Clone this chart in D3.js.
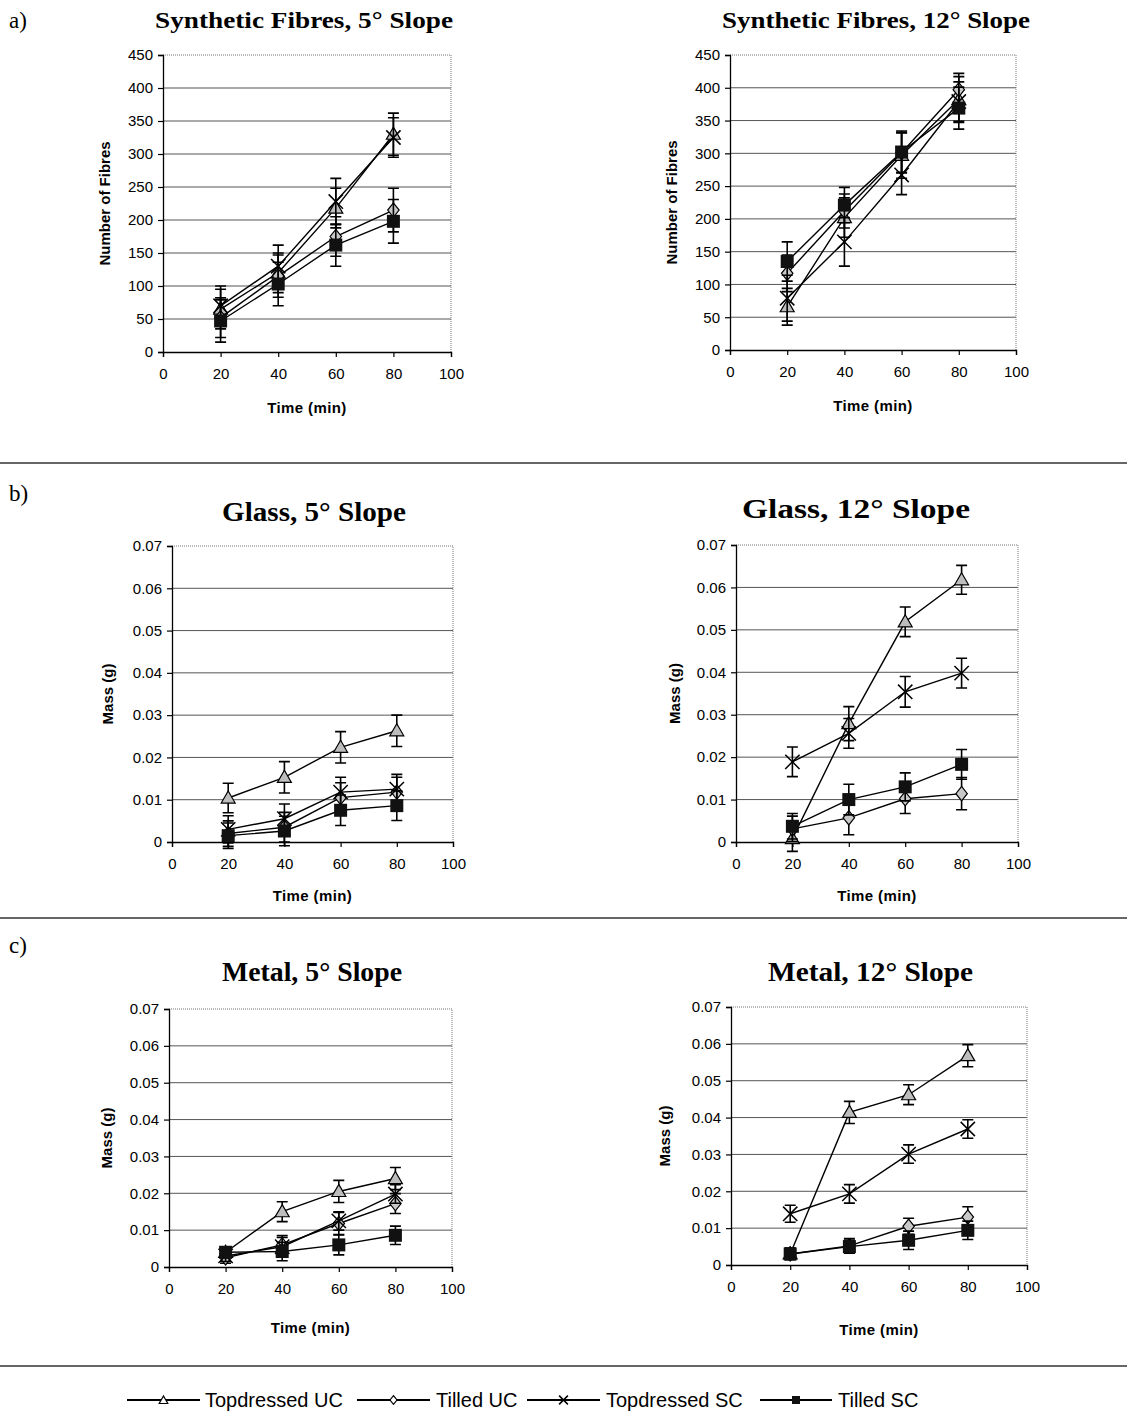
<!DOCTYPE html>
<html><head><meta charset="utf-8">
<script src="https://cdn.jsdelivr.net/npm/d3@7"></script>
<style>
body{margin:0;background:#fff;}
svg{display:block;}
</style></head>
<body>
<svg id="c" width="1127" height="1418"></svg>
<script>
// ---------- DATA ----------
const times = [20, 40, 60, 80];
const seriesNames = ["Topdressed UC", "Tilled UC", "Topdressed SC", "Tilled SC"];
const xTicks = [0, 20, 40, 60, 80, 100];
const fibreTicks = [0, 50, 100, 150, 200, 250, 300, 350, 400, 450];
const massTicks = [0, 0.01, 0.02, 0.03, 0.04, 0.05, 0.06, 0.07];
const massTickLabels = ["0", "0.01", "0.02", "0.03", "0.04", "0.05", "0.06", "0.07"];

// a) Synthetic fibres, 5°
const fib5TopUC = [65, 120, 218, 330],   fib5TopUCErr = [30, 30, 30, 32];
const fib5TilUC = [52, 115, 175, 215],   fib5TilUCErr = [30, 32, 30, 33];
const fib5TopSC = [70, 130, 228, 325],   fib5TopSCErr = [30, 32, 35, 30];
const fib5TilSC = [47, 103, 162, 198],   fib5TilSCErr = [32, 33, 32, 33];
// a) Synthetic fibres, 12°
const fib12TopUC = [66, 202, 297, 382],  fib12TopUCErr = [28, 30, 35, 35];
const fib12TilUC = [117, 212, 301, 397], fib12TilUCErr = [28, 26, 30, 25];
const fib12TopSC = [79, 165, 267, 379],  fib12TopSCErr = [35, 37, 30, 30];
const fib12TilSC = [135, 221, 302, 369], fib12TilSCErr = [30, 27, 32, 32];
// b) Glass, 5°
const gl5TopUC = [0.0104, 0.0153, 0.0224, 0.0263], gl5TopUCErr = [0.0035, 0.0037, 0.0037, 0.0037];
const gl5TilUC = [0.0020, 0.0035, 0.0105, 0.0118], gl5TilUCErr = [0.0030, 0.0035, 0.0035, 0.0035];
const gl5TopSC = [0.0030, 0.0055, 0.0118, 0.0125], gl5TopSCErr = [0.0032, 0.0035, 0.0035, 0.0035];
const gl5TilSC = [0.0015, 0.0026, 0.0075, 0.0086], gl5TilSCErr = [0.0030, 0.0035, 0.0036, 0.0035];
// b) Glass, 12°
const gl12TopUC = [0.0008, 0.0279, 0.0519, 0.0618], gl12TopUCErr = [0.0030, 0.0040, 0.0035, 0.0034];
const gl12TilUC = [0.0031, 0.0057, 0.0102, 0.0114], gl12TilUCErr = [0.0030, 0.0040, 0.0035, 0.0038];
const gl12TopSC = [0.0189, 0.0256, 0.0354, 0.0398], gl12TopSCErr = [0.0035, 0.0035, 0.0036, 0.0035];
const gl12TilSC = [0.0037, 0.0100, 0.0130, 0.0183], gl12TilSCErr = [0.0030, 0.0036, 0.0033, 0.0035];
// c) Metal, 5°
const me5TopUC = [0.0040, 0.0150, 0.0205, 0.0240], me5TopUCErr = [0.0015, 0.0027, 0.0030, 0.0030];
const me5TilUC = [0.0025, 0.0060, 0.0118, 0.0172], me5TilUCErr = [0.0015, 0.0025, 0.0030, 0.0027];
const me5TopSC = [0.0030, 0.0055, 0.0125, 0.0198], me5TopSCErr = [0.0015, 0.0025, 0.0025, 0.0025];
const me5TilSC = [0.0040, 0.0042, 0.0060, 0.0086], me5TilSCErr = [0.0015, 0.0025, 0.0027, 0.0025];
// c) Metal, 12°
const me12TopUC = [0.0030, 0.0414, 0.0462, 0.0568], me12TopUCErr = [0.0015, 0.0030, 0.0027, 0.0030];
const me12TilUC = [0.0030, 0.0052, 0.0105, 0.0130], me12TilUCErr = [0.0015, 0.0020, 0.0022, 0.0028];
const me12TopSC = [0.0139, 0.0193, 0.0301, 0.0369], me12TopSCErr = [0.0023, 0.0025, 0.0025, 0.0025];
const me12TilSC = [0.0030, 0.0050, 0.0067, 0.0094], me12TilSCErr = [0.0015, 0.0018, 0.0025, 0.0025];

// ---------- LAYOUT ----------
const svg = d3.select("#c");
const SANS = "Arial, 'Liberation Sans', sans-serif";
const SERIF = "'Times New Roman', 'Liberation Serif', serif";

const panels = [
  {title:"Synthetic Fibres, 5° Slope", tl:155, tw:298, ty:28, tsize:24, x0:163, x1:451, y0:55, y1:352, ymax:450, ticks:fibreTicks, labels:fibreTicks.map(String), ylab:"Number of Fibres", ylx:106, xly:413,
   series:[[fib5TopUC,fib5TopUCErr],[fib5TilUC,fib5TilUCErr],[fib5TopSC,fib5TopSCErr],[fib5TilSC,fib5TilSCErr]]},
  {title:"Synthetic Fibres, 12° Slope", tl:722, tw:308, ty:28, tsize:24, x0:730, x1:1016, y0:55, y1:350, ymax:450, ticks:fibreTicks, labels:fibreTicks.map(String), ylab:"Number of Fibres", ylx:673, xly:411,
   series:[[fib12TopUC,fib12TopUCErr],[fib12TilUC,fib12TilUCErr],[fib12TopSC,fib12TopSCErr],[fib12TilSC,fib12TilSCErr]]},
  {title:"Glass, 5° Slope", tl:222, tw:184, ty:521, tsize:28, x0:172, x1:453, y0:546, y1:842, ymax:0.07, ticks:massTicks, labels:massTickLabels, ylab:"Mass (g)", ylx:109, xly:901,
   series:[[gl5TopUC,gl5TopUCErr],[gl5TilUC,gl5TilUCErr],[gl5TopSC,gl5TopSCErr],[gl5TilSC,gl5TilSCErr]]},
  {title:"Glass, 12° Slope", tl:742, tw:228, ty:518, tsize:28, x0:736, x1:1018, y0:545, y1:842, ymax:0.07, ticks:massTicks, labels:massTickLabels, ylab:"Mass (g)", ylx:676, xly:901,
   series:[[gl12TopUC,gl12TopUCErr],[gl12TilUC,gl12TilUCErr],[gl12TopSC,gl12TopSCErr],[gl12TilSC,gl12TilSCErr]]},
  {title:"Metal, 5° Slope", tl:222, tw:180, ty:981, tsize:28, x0:169, x1:452, y0:1009, y1:1267, ymax:0.07, ticks:massTicks, labels:massTickLabels, ylab:"Mass (g)", ylx:108, xly:1333,
   series:[[me5TopUC,me5TopUCErr],[me5TilUC,me5TilUCErr],[me5TopSC,me5TopSCErr],[me5TilSC,me5TilSCErr]]},
  {title:"Metal, 12° Slope", tl:768, tw:205, ty:981, tsize:28, x0:731, x1:1027, y0:1007, y1:1265, ymax:0.07, ticks:massTicks, labels:massTickLabels, ylab:"Mass (g)", ylx:666, xly:1335,
   series:[[me12TopUC,me12TopUCErr],[me12TilUC,me12TilUCErr],[me12TopSC,me12TopSCErr],[me12TilSC,me12TilSCErr]]}
];

// section labels + separators
[["a)",9,28],["b)",9,501],["c)",9,953]].forEach(([t,x,y])=>{
  svg.append("text").attr("x",x).attr("y",y).attr("font-family",SERIF).attr("font-size",23).text(t);
});
[463, 918, 1366].forEach(y=>{
  svg.append("line").attr("x1",0).attr("x2",1127).attr("y1",y).attr("y2",y).attr("stroke","#333").attr("stroke-width",1.3);
});

function drawMarker(g, type, x, y, s, lightFill){
  const f1 = lightFill || "#bdbdbd", f2 = lightFill || "#c8c8c8";
  if(type===0){ // triangle
    g.append("path").attr("d", d3.symbol(d3.symbolTriangle, s*s*0.5)()).attr("transform",`translate(${x},${y+1})`)
      .attr("fill",f1).attr("stroke","#000").attr("stroke-width",1.2);
  } else if(type===1){ // diamond
    const r = s*0.55;
    g.append("path").attr("d",`M0,${-r}L${r*0.8},0L0,${r}L${-r*0.8},0Z`).attr("transform",`translate(${x},${y})`)
      .attr("fill",f2).attr("stroke","#000").attr("stroke-width",1.2);
  } else if(type===2){ // X
    const r = s*0.55;
    g.append("path").attr("d",`M${-r},${-r}L${r},${r}M${-r},${r}L${r},${-r}`).attr("transform",`translate(${x},${y})`)
      .attr("fill","none").attr("stroke","#000").attr("stroke-width",1.5);
  } else { // square
    const r = s*0.5;
    g.append("rect").attr("x",x-r).attr("y",y-r).attr("width",2*r).attr("height",2*r).attr("fill","#111");
  }
}

panels.forEach(p=>{
  const g = svg.append("g");
  const x = d3.scaleLinear().domain([0,100]).range([p.x0,p.x1]);
  const y = d3.scaleLinear().domain([0,p.ymax]).range([p.y1,p.y0]);

  // title
  svg.append("text").attr("x",p.tl).attr("y",p.ty)
    .attr("textLength",p.tw).attr("lengthAdjust","spacingAndGlyphs")
    .attr("font-family",SERIF).attr("font-weight","bold").attr("font-size",p.tsize).text(p.title);

  // gridlines
  g.selectAll(".grid").data(p.ticks.slice(1,-1)).enter().append("line")
    .attr("x1",p.x0).attr("x2",p.x1).attr("y1",d=>y(d)).attr("y2",d=>y(d))
    .attr("stroke","#555").attr("stroke-width",1);
  // dotted top/right border
  g.append("path").attr("d",`M${p.x0},${p.y0}H${p.x1}V${p.y1}`).attr("fill","none")
    .attr("stroke","#777").attr("stroke-width",1).attr("stroke-dasharray","1,1");

  // axes
  const ya = d3.axisLeft(y).tickValues(p.ticks).tickSize(5).tickPadding(5).tickFormat((d,i)=>p.labels[i]);
  const yg = g.append("g").attr("transform",`translate(${p.x0},0)`).call(ya);
  const xa = d3.axisBottom(x).tickValues(xTicks).tickSize(5).tickPadding(11).tickFormat(d=>String(d));
  const xg = g.append("g").attr("transform",`translate(0,${p.y1})`).call(xa);
  [yg,xg].forEach(a=>{
    a.select(".domain").attr("stroke","#000").attr("stroke-width",1.3);
    a.selectAll(".tick line").attr("stroke","#000").attr("stroke-width",1.2);
    a.selectAll("text").attr("font-family",SANS).attr("font-size",15).attr("fill","#000");
  });

  // axis titles
  svg.append("text").attr("transform",`translate(${p.ylx},${(p.y0+p.y1)/2}) rotate(-90)`)
    .attr("text-anchor","middle").attr("dominant-baseline","middle")
    .attr("font-family",SANS).attr("font-weight","bold").attr("font-size",15).text(p.ylab);
  svg.append("text").attr("x",(p.x0+p.x1)/2).attr("y",p.xly).attr("text-anchor","middle")
    .attr("font-family",SANS).attr("font-weight","bold").attr("font-size",15).attr("letter-spacing",0.4).text("Time (min)");

  // series
  const line = d3.line().x((d,i)=>x(times[i])).y(d=>y(d));
  p.series.forEach(([vals,errs],si)=>{
    const sg = g.append("g");
    sg.append("path").attr("d",line(vals)).attr("fill","none").attr("stroke","#000").attr("stroke-width",1.4);
    vals.forEach((v,i)=>{
      const cx = x(times[i]);
      const lo = y(v-errs[i]), hi = y(v+errs[i]);
      sg.append("path").attr("d",`M${cx},${lo}V${hi}M${cx-5.5},${hi}H${cx+5.5}M${cx-5.5},${lo}H${cx+5.5}`)
        .attr("stroke","#000").attr("stroke-width",1.6).attr("fill","none");
    });
    vals.forEach((v,i)=> drawMarker(sg, si, x(times[i]), y(v), 13));
  });
});

// legend
const legendItems = [
  {lx0:127, lx1:200, tx:205},
  {lx0:357, lx1:430, tx:436},
  {lx0:527, lx1:600, tx:606},
  {lx0:760, lx1:832, tx:838}
];
const ly = 1400;
seriesNames.forEach((name,i)=>{
  const it = legendItems[i];
  const lg = svg.append("g");
  lg.append("line").attr("x1",it.lx0).attr("x2",it.lx1).attr("y1",ly).attr("y2",ly).attr("stroke","#000").attr("stroke-width",2);
  drawMarker(lg, i, (it.lx0+it.lx1)/2, ly, 8, "#fff");
  lg.append("text").attr("x",it.tx).attr("y",ly+7).attr("font-family",SANS).attr("font-size",20).text(name);
});
</script>
</body></html>
